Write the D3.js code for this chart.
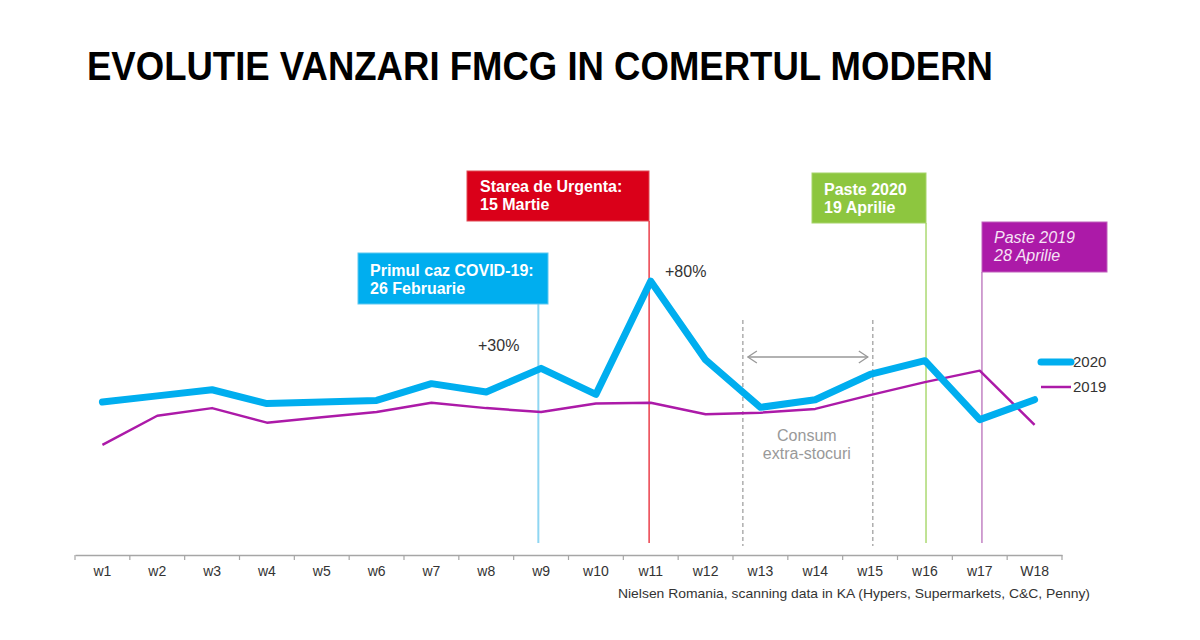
<!DOCTYPE html>
<html>
<head>
<meta charset="utf-8">
<script src="https://cdn.jsdelivr.net/npm/d3@7"></script>
<style>
  html, body { margin: 0; padding: 0; background: #fff; }
  svg { display: block; font-family: Arial, "Liberation Sans", sans-serif; }
</style>
</head>
<body>
<svg id="chart" width="1200" height="640"></svg>
<script>
// ---- data ----
const weeks = ["w1","w2","w3","w4","w5","w6","w7","w8","w9","w10","w11","w12","w13","w14","w15","w16","w17","W18"];
// index values (w1 2020 = 100)
const sales2020 = [100, 104, 108, 99, 100, 101, 112, 106.5, 122, 105, 179, 127.5, 96.5, 101.5, 118, 127, 88.5, 101.5];
const sales2019 = [72, 91, 96, 86.5, 90, 93.5, 99.5, 96, 93.5, 99, 99.5, 92, 93, 95.5, 104.5, 113, 120.5, 85];
const seriesNames = ["2020", "2019"];
const title = "EVOLUTIE VANZARI FMCG IN COMERTUL MODERN";
const source = "Nielsen Romania, scanning data in KA (Hypers, Supermarkets, C&C, Penny)";
// event annotations (position in weeks)
const eventLines = [
  ["Primul caz COVID-19:", "26 Februarie"],
  ["Starea de Urgenta:", "15 Martie"],
  ["Paste 2020", "19 Aprilie"],
  ["Paste 2019", "28 Aprilie"]
];
const eventWeek = [8.95, 10.97, 16.02, 17.04];
const peakLabels = ["+30%", "+80%"];
const stockWeeks = [12.68, 15.05];
const stockLabel = ["Consum", "extra-stocuri"];

// ---- layout / style ----
const svg = d3.select("#chart");
const left = 75, right = 1062, axisY = 555;
const blue = "#00AEEF", purple = "#AC1AA8";

const x = d3.scaleBand().domain(weeks).range([left, right]).padding(0);
const xw = d3.scaleLinear().domain([0.5, weeks.length + 0.5]).range([left, right]);
const y = d3.scaleLinear().domain([0, 100]).range([axisY, 402]);
const cx = w => x(w) + x.bandwidth() / 2;

// title
svg.append("text")
  .attr("x", 87).attr("y", 80)
  .attr("font-size", 40).attr("font-weight", "bold").attr("fill", "#000")
  .attr("textLength", 906).attr("lengthAdjust", "spacingAndGlyphs")
  .text(title);

// axis
const axis = d3.axisBottom(x).tickSize(0).tickPadding(11).tickSizeOuter(0);
const gAxis = svg.append("g").attr("transform", `translate(0,${axisY})`).call(axis);
gAxis.select(".domain").attr("stroke", "#A6A6A6").attr("stroke-width", 1.5);
gAxis.selectAll("text").attr("font-size", 14).attr("fill", "#333")
  .attr("font-family", "Arial, 'Liberation Sans', sans-serif");
const bounds = d3.range(weeks.length + 1).map(i => xw(i + 0.5));
svg.append("g").selectAll("line").data(bounds).join("line")
  .attr("x1", d => d).attr("x2", d => d)
  .attr("y1", axisY).attr("y2", axisY + 5)
  .attr("stroke", "#A6A6A6").attr("stroke-width", 1.2);

// source
svg.append("text")
  .attr("x", 618).attr("y", 598)
  .attr("font-size", 13.5).attr("fill", "#333")
  .attr("textLength", 472).attr("lengthAdjust", "spacingAndGlyphs")
  .text(source);

// dashed stock lines
svg.append("g").selectAll("line").data(stockWeeks).join("line")
  .attr("x1", d => xw(d)).attr("x2", d => xw(d))
  .attr("y1", 320).attr("y2", 546)
  .attr("stroke", "#999").attr("stroke-width", 1.2)
  .attr("stroke-dasharray", "4,3");

// double arrow
const ax1 = xw(stockWeeks[0]) + 5, ax2 = xw(stockWeeks[1]) - 5, ay = 357;
svg.append("line").attr("x1", ax1).attr("x2", ax2).attr("y1", ay).attr("y2", ay)
  .attr("stroke", "#999").attr("stroke-width", 1.3);
svg.append("path")
  .attr("d", `M${ax1 + 9},${ay - 6} L${ax1},${ay} L${ax1 + 9},${ay + 6} M${ax2 - 9},${ay - 6} L${ax2},${ay} L${ax2 - 9},${ay + 6}`)
  .attr("fill", "none").attr("stroke", "#999").attr("stroke-width", 1.3);
svg.append("g").selectAll("text").data(stockLabel).join("text")
  .attr("x", (xw(stockWeeks[0]) + xw(stockWeeks[1])) / 2 - 1)
  .attr("y", (d, i) => 441 + i * 18)
  .attr("text-anchor", "middle").attr("font-size", 16).attr("fill", "#999")
  .text(d => d);

// event boxes
const boxes = [
  { x0: 358, y0: 253, x1: 548, y1: 304, fill: "#00AEEF", stroke: "#5CC8F0", line: "#8FD6F2", italic: false, tx: 370, ty: 276 },
  { x0: 467, y0: 171, x1: 649, y1: 221, fill: "#DA0019", stroke: "#E04A55", line: "#E8222F", italic: false, tx: 480, ty: 192 },
  { x0: 812, y0: 173, x1: 926, y1: 223, fill: "#8DC63F", stroke: "#A6D46A", line: "#9ED35C", italic: false, tx: 824, ty: 195 },
  { x0: 982, y0: 222, x1: 1107, y1: 272, fill: "#AC1AA8", stroke: "#C060BC", line: "#B86FBA", italic: true, tx: 994, ty: 243 }
];
boxes.forEach((b, i) => {
  const lx = xw(eventWeek[i]);
  svg.append("line").attr("x1", lx).attr("x2", lx).attr("y1", b.y1).attr("y2", 543)
    .attr("stroke", b.line).attr("stroke-width", i === 0 ? 2 : 1.3);
  svg.append("rect").attr("x", b.x0).attr("y", b.y0)
    .attr("width", b.x1 - b.x0).attr("height", b.y1 - b.y0)
    .attr("fill", b.fill).attr("stroke", b.stroke).attr("stroke-width", 1);
  svg.append("g").selectAll("text").data(eventLines[i]).join("text")
    .attr("x", b.tx).attr("y", (d, j) => b.ty + j * 18)
    .attr("font-size", 16)
    .attr("font-weight", b.italic ? "normal" : "bold")
    .attr("font-style", b.italic ? "italic" : "normal")
    .attr("fill", b.italic ? "#F6E3F5" : "#fff")
    .text(d => d);
});

// lines
const line = d3.line().x((d, i) => cx(weeks[i])).y(d => y(d));
svg.append("path").datum(sales2019).attr("d", line)
  .attr("fill", "none").attr("stroke", purple).attr("stroke-width", 2.5)
  .attr("stroke-linejoin", "round");
svg.append("path").datum(sales2020).attr("d", line)
  .attr("fill", "none").attr("stroke", blue).attr("stroke-width", 7)
  .attr("stroke-linejoin", "round").attr("stroke-linecap", "round");

// peak labels
svg.append("text").attr("x", 478).attr("y", 351).attr("font-size", 16).attr("fill", "#333").text(peakLabels[0]);
svg.append("text").attr("x", 665).attr("y", 277).attr("font-size", 16).attr("fill", "#333").text(peakLabels[1]);

// legend
const legend = svg.append("g");
[[blue, 7, 362], [purple, 2.5, 387]].forEach((s, i) => {
  legend.append("line").attr("x1", 1041).attr("x2", 1071).attr("y1", s[2]).attr("y2", s[2])
    .attr("stroke", s[0]).attr("stroke-width", s[1]).attr("stroke-linecap", i === 0 ? "round" : "butt");
  legend.append("text").attr("x", 1073).attr("y", s[2] + 5)
    .attr("font-size", 15).attr("fill", "#333").text(seriesNames[i]);
});
</script>
</body>
</html>
